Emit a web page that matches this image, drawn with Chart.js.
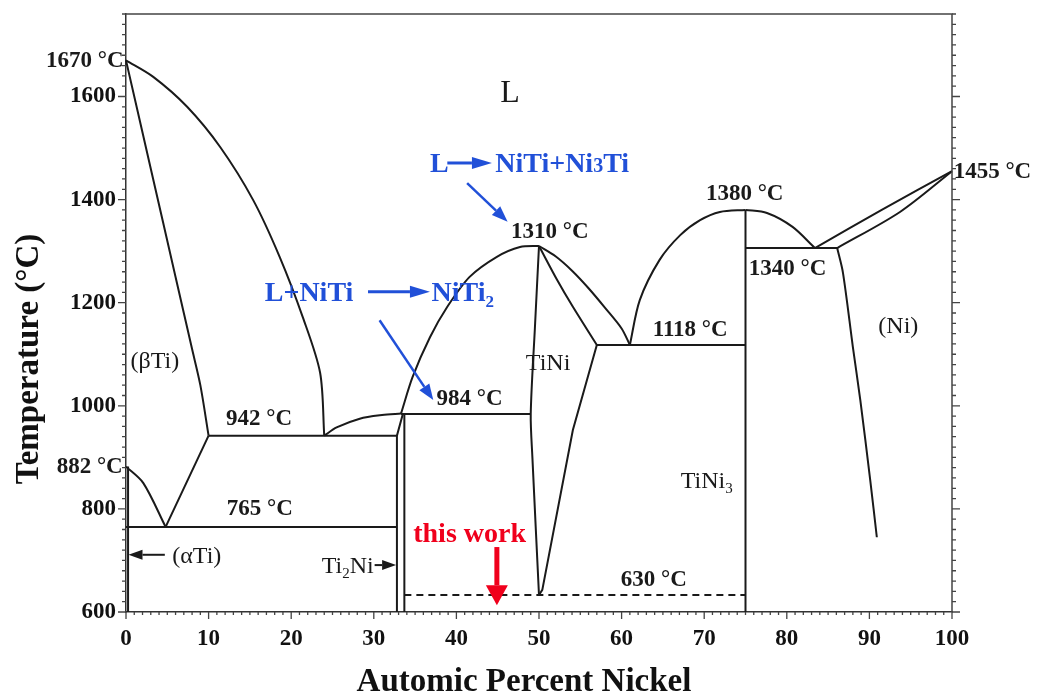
<!DOCTYPE html>
<html>
<head>
<meta charset="utf-8">
<script src="https://cdn.jsdelivr.net/npm/chart.js@4.4.1/dist/chart.umd.min.js"></script>
<style>
  html, body { margin: 0; padding: 0; background: #fff; }
</style>
</head>
<body>
<canvas id="phase" width="1056" height="695"></canvas>
<script>
// tick labels
const xTicks = [0, 10, 20, 30, 40, 50, 60, 70, 80, 90, 100];
const yTicks = [600, 800, 1000, 1200, 1400, 1600];
const xTitle = 'Automic Percent Nickel';
const yTitle = 'Temperature (°C)';

// phase boundaries, [at% Ni, temperature]
const liqTi = [[0, 1670], [3.3, 1638], [7.4, 1580], [11.4, 1502], [15.4, 1399], [18.6, 1289], [21.4, 1172], [23.5, 1064], [24.0, 942]];
const solBetaTi = [[0, 1670], [3.0, 1460], [6.0, 1250], [8.0, 1110], [9.0, 1040], [10.0, 942]];
const transusBeta = [[0, 882], [2.1, 850], [4.8, 765]];
const solvusBeta = [[4.8, 765], [10.0, 942]];
const line942 = [[10.0, 942], [32.8, 942]];
const line765 = [[0, 765], [32.8, 765]];
const alphaTi = [[0.25, 882], [0.25, 600]];
const liqTi2Ni = [[24.0, 942], [25.5, 958], [28.3, 975], [31.0, 982], [33.3, 985]];
const ti2NiLeft = [[32.8, 600], [32.8, 942], [33.5, 983]];
const ti2NiRight = [[33.7, 984], [33.7, 600]];
const line984 = [[33.3, 984], [49.0, 984]];
const liqNiTiLeft = [[33.3, 985], [34.7, 1056], [36.8, 1133], [38.9, 1192], [41.6, 1250], [44.9, 1289], [47.7, 1308], [50.0, 1310]];
const liqNiTiRight = [[50.0, 1310], [52.0, 1290], [54.0, 1262], [56.0, 1228], [58.0, 1190], [60.0, 1150], [61.0, 1118]];
const solNiTiRight = [[50.0, 1310], [52.2, 1244], [54.1, 1192], [57.0, 1118]];
const solvNiTiRight = [[57.0, 1118], [54.1, 953], [50.4, 643], [50.0, 633]];
const solvNiTiLeft = [[50.0, 1310], [49.5, 1150], [49.0, 984], [49.2, 900], [50.0, 633]];
const line1118 = [[57.0, 1118], [75.0, 1118]];
const line630 = [[33.7, 633], [75.0, 633]];
const liqNi3TiLeft = [[61.0, 1118], [62.2, 1205], [64.6, 1283], [67.1, 1331], [69.5, 1360], [71.9, 1376], [75.0, 1380]];
const ni3Ti = [[75.0, 1380], [75.0, 600]];
const liqNi3TiRight = [[75.0, 1380], [77.6, 1374], [80.7, 1347], [83.4, 1306]];
const line1306 = [[75.0, 1306], [86.1, 1306]];
const liqNi = [[83.4, 1306], [91.6, 1381], [100, 1455]];
const solNi = [[86.1, 1306], [93.7, 1376], [100, 1455]];
const solvNi = [[86.1, 1306], [86.8, 1258], [88.0, 1114], [88.9, 1011], [90.1, 856], [90.9, 745]];

const curved = [liqTi, solBetaTi, transusBeta, liqTi2Ni, liqNiTiLeft, liqNiTiRight, solNiTiRight,
  solvNiTiLeft, liqNi3TiLeft, liqNi3TiRight, liqNi, solNi, solvNi];
const straight = [solvusBeta, line942, line765, alphaTi, ti2NiLeft, ti2NiRight, line984,
  solvNiTiRight, line1118, ni3Ti, line1306];
const dashed = [line630];

const SERIF = '"Liberation Serif", "Times New Roman", serif';
const INK = '#1a1a1a';
const BLUE = '#2150d8';
const RED = '#f0001c';

// text on the diagram, in data coordinates; parts: [text, 0 normal | 1 subscript | 2 small]
const notes = [
  { parts: [['1670 °C', 0]], x: -0.3, y: 1671, align: 'right', kind: 'temp' },
  { parts: [['L', 0]], x: 46.5, y: 1609, align: 'center', kind: 'big' },
  { parts: [['L', 0]], x: 36.8, y: 1471, align: 'left', kind: 'blue' },
  { parts: [['NiTi+Ni', 0], ['3', 2], ['Ti', 0]], x: 44.7, y: 1471, align: 'left', kind: 'blue' },
  { parts: [['1310 °C', 0]], x: 51.3, y: 1341, align: 'center', kind: 'temp' },
  { parts: [['1380 °C', 0]], x: 74.9, y: 1413, align: 'center', kind: 'temp' },
  { parts: [['1455 °C', 0]], x: 100.2, y: 1457, align: 'left', kind: 'temp' },
  { parts: [['1340 °C', 0]], x: 75.4, y: 1269, align: 'left', kind: 'temp' },
  { parts: [['(Ni)', 0]], x: 93.5, y: 1157, align: 'center', kind: 'phase' },
  { parts: [['1118 °C', 0]], x: 68.3, y: 1151, align: 'center', kind: 'temp' },
  { parts: [['TiNi', 0]], x: 51.1, y: 1085, align: 'center', kind: 'phase' },
  { parts: [['L+NiTi', 0]], x: 16.8, y: 1221, align: 'left', kind: 'blue' },
  { parts: [['NiTi', 0], ['2', 1]], x: 37.0, y: 1221, align: 'left', kind: 'blue' },
  { parts: [['984 °C', 0]], x: 41.6, y: 1017, align: 'center', kind: 'temp' },
  { parts: [['(βTi)', 0]], x: 3.5, y: 1089, align: 'center', kind: 'phase' },
  { parts: [['942 °C', 0]], x: 16.1, y: 978, align: 'center', kind: 'temp' },
  { parts: [['882 °C', 0]], x: -0.4, y: 885, align: 'right', kind: 'temp' },
  { parts: [['765 °C', 0]], x: 16.2, y: 802, align: 'center', kind: 'temp' },
  { parts: [['(αTi)', 0]], x: 5.6, y: 711, align: 'left', kind: 'phase' },
  { parts: [['Ti', 0], ['2', 1], ['Ni', 0]], x: 23.7, y: 691, align: 'left', kind: 'phase' },
  { parts: [['this work', 0]], x: 41.6, y: 753, align: 'center', kind: 'red' },
  { parts: [['630 °C', 0]], x: 63.9, y: 666, align: 'center', kind: 'temp' },
  { parts: [['TiNi', 0], ['3', 1]], x: 70.3, y: 856, align: 'center', kind: 'phase' }
];

const arrows = [
  { from: [38.9, 1471], to: [44.3, 1471], kind: 'blueText' },
  { from: [29.3, 1221], to: [36.8, 1221], kind: 'blueText' },
  { from: [41.3, 1432], to: [46.2, 1357], kind: 'blue' },
  { from: [30.7, 1166], to: [37.2, 1011], kind: 'blue' },
  { from: [44.9, 726], to: [44.9, 613], kind: 'red' },
  { from: [4.7, 711], to: [0.3, 711], kind: 'black' },
  { from: [30.1, 691], to: [32.7, 691], kind: 'black' }
];

const textStyle = {
  temp: { size: 23, weight: 'bold', color: INK },
  phase: { size: 24, weight: 'normal', color: INK },
  big: { size: 32, weight: 'normal', color: INK },
  blue: { size: 28, weight: 'bold', color: BLUE },
  red: { size: 28, weight: 'bold', color: RED }
};
const arrowStyle = {
  blueText: { color: BLUE, width: 3, head: 20, half: 6 },
  blue: { color: BLUE, width: 2.5, head: 16, half: 6 },
  red: { color: RED, width: 5, head: 20, half: 11 },
  black: { color: INK, width: 2, head: 14, half: 5 }
};

function drawRich(ctx, parts, px, py, align, st) {
  const fontFor = m => {
    const s = m === 1 ? st.size * 0.62 : m === 2 ? st.size * 0.72 : st.size;
    return st.weight + ' ' + Math.round(s) + 'px ' + SERIF;
  };
  let w = 0;
  parts.forEach(p => { ctx.font = fontFor(p[1]); w += ctx.measureText(p[0]).width; });
  let cx = align === 'left' ? px : align === 'right' ? px - w : px - w / 2;
  ctx.fillStyle = st.color;
  ctx.textAlign = 'left';
  ctx.textBaseline = 'alphabetic';
  const base = py + st.size * 0.33;
  parts.forEach(p => {
    ctx.font = fontFor(p[1]);
    const dy = p[1] === 1 ? st.size * 0.2 : 0;
    ctx.fillText(p[0], cx, base + dy);
    cx += ctx.measureText(p[0]).width;
  });
}

function drawArrow(ctx, x1, y1, x2, y2, st) {
  const ang = Math.atan2(y2 - y1, x2 - x1);
  const bx = x2 - Math.cos(ang) * st.head;
  const by = y2 - Math.sin(ang) * st.head;
  ctx.strokeStyle = st.color;
  ctx.fillStyle = st.color;
  ctx.lineWidth = st.width;
  ctx.beginPath();
  ctx.moveTo(x1, y1);
  ctx.lineTo(bx, by);
  ctx.stroke();
  ctx.beginPath();
  ctx.moveTo(x2, y2);
  ctx.lineTo(bx + Math.sin(ang) * st.half, by - Math.cos(ang) * st.half);
  ctx.lineTo(bx - Math.sin(ang) * st.half, by + Math.cos(ang) * st.half);
  ctx.closePath();
  ctx.fill();
}

const decor = {
  id: 'decor',
  afterDraw(chart) {
    const { ctx, chartArea: a, scales } = chart;
    const sx = scales.x, sy = scales.y;
    ctx.save();
    ctx.strokeStyle = '#444';
    ctx.lineWidth = 1.5;
    ctx.beginPath();
    ctx.moveTo(a.left, a.top);
    ctx.lineTo(a.right, a.top);
    ctx.lineTo(a.right, a.bottom);
    ctx.stroke();

    ctx.lineWidth = 1.3;
    ctx.beginPath();
    for (let v = 600; v <= 1760; v += 20) {
      const py = sy.getPixelForValue(v);
      const len = v % 200 === 0 ? 8 : 4;
      ctx.moveTo(a.left - len, py); ctx.lineTo(a.left, py);
      ctx.moveTo(a.right, py); ctx.lineTo(a.right + len, py);
    }
    for (let v = 0; v <= 100; v += 1) {
      const px = sx.getPixelForValue(v);
      const len = v % 10 === 0 ? 7 : 3;
      ctx.moveTo(px, a.bottom); ctx.lineTo(px, a.bottom + len);
    }
    ctx.stroke();

    // axis titles
    ctx.fillStyle = '#111';
    ctx.font = 'bold 33px ' + SERIF;
    ctx.textAlign = 'center';
    ctx.textBaseline = 'middle';
    ctx.fillText(xTitle, 524, 682);
    ctx.save();
    ctx.translate(29, 359);
    ctx.rotate(-Math.PI / 2);
    ctx.fillText(yTitle, 0, 0);
    ctx.restore();

    notes.forEach(n => {
      drawRich(ctx, n.parts, sx.getPixelForValue(n.x), sy.getPixelForValue(n.y), n.align, textStyle[n.kind]);
    });
    arrows.forEach(r => {
      drawArrow(ctx, sx.getPixelForValue(r.from[0]), sy.getPixelForValue(r.from[1]),
        sx.getPixelForValue(r.to[0]), sy.getPixelForValue(r.to[1]), arrowStyle[r.kind]);
    });
    ctx.restore();
  }
};

const toXY = arr => arr.map(p => ({ x: p[0], y: p[1] }));
const datasets = [];
curved.forEach(c => datasets.push({ data: toXY(c), tension: 0.3 }));
straight.forEach(c => datasets.push({ data: toXY(c), tension: 0 }));
dashed.forEach(c => datasets.push({ data: toXY(c), tension: 0, borderDash: [7, 5], borderWidth: 1.8 }));
datasets.forEach(d => Object.assign(d, {
  showLine: true, pointRadius: 0, borderColor: INK,
  borderWidth: d.borderWidth || 2, clip: false
}));

new Chart(document.getElementById('phase'), {
  type: 'scatter',
  data: { datasets: datasets },
  options: {
    responsive: false,
    animation: false,
    layout: { padding: { left: 0, top: 14, right: 104, bottom: 0 } },
    plugins: { legend: { display: false }, tooltip: { enabled: false } },
    scales: {
      x: {
        type: 'linear', min: 0, max: 100,
        afterBuildTicks: s => { s.ticks = xTicks.map(v => ({ value: v })); },
        afterFit: s => { s.height = 83; s.paddingLeft = 0; s.paddingRight = 0; },
        grid: { display: false, drawTicks: false },
        border: { display: true, color: '#333', width: 1.5 },
        ticks: {
          padding: 13, color: '#111', maxRotation: 0,
          font: { family: SERIF, size: 23, weight: 'bold' },
          callback: v => String(v)
        }
      },
      y: {
        type: 'linear', min: 600, max: 1760,
        afterBuildTicks: s => { s.ticks = yTicks.map(v => ({ value: v })); },
        afterFit: s => { s.width = 126; s.paddingTop = 0; s.paddingBottom = 0; },
        grid: { display: false, drawTicks: false },
        border: { display: true, color: '#333', width: 1.5 },
        ticks: {
          padding: 10, color: '#111',
          font: { family: SERIF, size: 23, weight: 'bold' },
          callback: v => String(v)
        }
      }
    }
  },
  plugins: [decor]
});
</script>
</body>
</html>
